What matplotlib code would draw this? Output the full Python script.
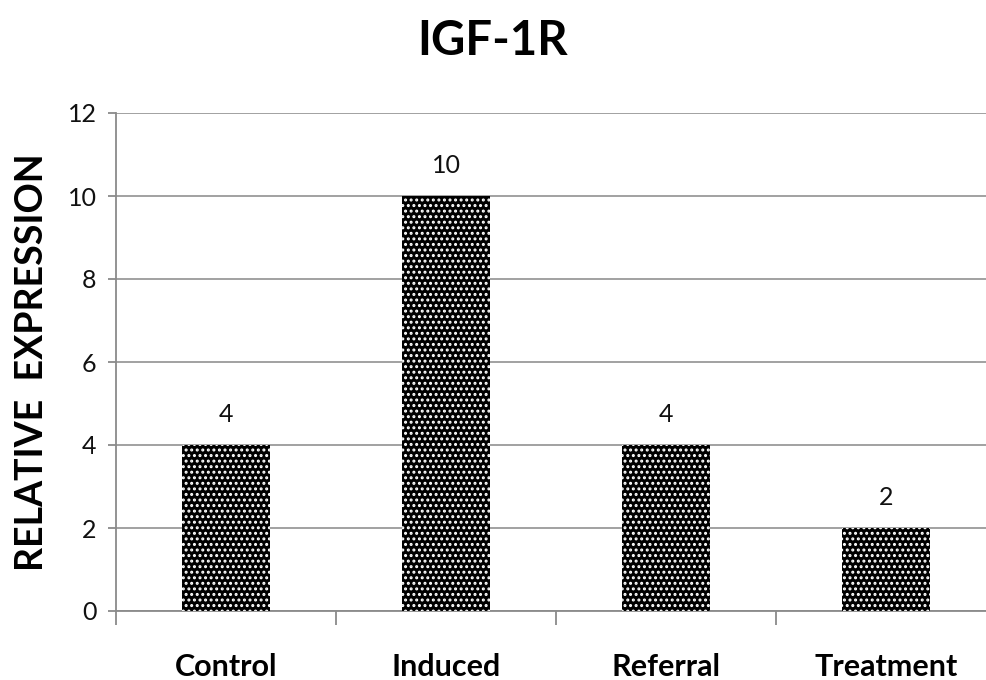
import matplotlib
matplotlib.use('Agg')
import matplotlib.pyplot as plt
import numpy as np

categories = ['Control', 'Induced', 'Referral', 'Treatment']
values = [4, 10, 4, 2]
y_ticks = [0, 2, 4, 6, 8, 10, 12]

plt.rcParams['font.family'] = ['Lato', 'DejaVu Sans']
plt.rcParams['hatch.linewidth'] = 1.4
plt.rcParams['hatch.color'] = 'white'

fig = plt.figure(figsize=(9.86, 6.8), dpi=100)
ax = fig.add_axes([116 / 986, 69 / 680, 880 / 986, 498 / 680])

x = np.arange(len(categories))
bars = ax.bar(x, values, width=0.4, color='black', edgecolor='white',
              linewidth=0, hatch='...', zorder=3)

for xi, v in zip(x, values):
    ax.text(xi, v + 0.45, str(v), ha='center', va='bottom', fontsize=18, color='#111111')

ax.set_xlim(-0.5, len(categories) - 0.5)
ax.set_ylim(0, 12)
ax.set_yticks(y_ticks)
ax.set_yticklabels([str(t) for t in y_ticks], fontsize=18, color='#111111')
ax.yaxis.grid(True, color='#9a9a9a', linewidth=1.3, zorder=0)
ax.tick_params(axis='y', length=6, width=1.3, color='#8a8a8a', pad=8)

ax.set_xticks(x)
ax.set_xticklabels(categories, fontsize=22, fontweight='bold')
ax.set_xticks(np.arange(len(categories) + 1) - 0.5, minor=True)
ax.tick_params(axis='x', which='major', length=0, pad=30)
ax.tick_params(axis='x', which='minor', length=10, width=1.3, color='#8a8a8a')

for side in ['top', 'right']:
    ax.spines[side].set_visible(False)
for side in ['left', 'bottom']:
    ax.spines[side].set_color('#8a8a8a')
    ax.spines[side].set_linewidth(1.3)

ax.set_ylabel('RELATIVE  EXPRESSION', fontsize=27, fontweight='bold', labelpad=13)
fig.text(0.5, 0.94, 'IGF-1R', ha='center', va='center', fontsize=34, fontweight='bold')

fig.savefig('out.png', dpi=100)
